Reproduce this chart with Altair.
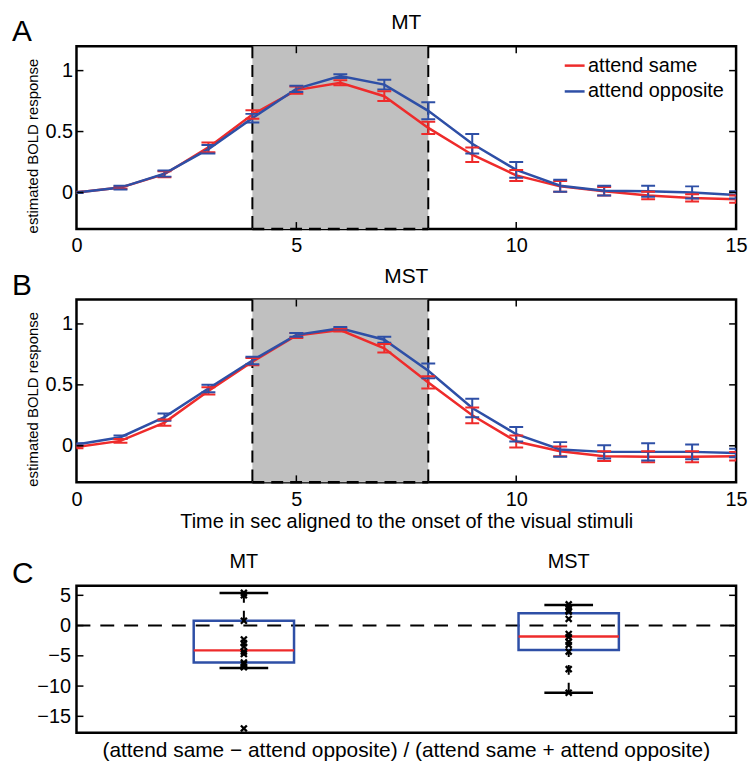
import altair as alt
import pandas as pd

FONT = "Liberation Sans"
RED = "#EE2B2B"
BLUE = "#2E4FA6"
GRAY = "#C0C0C0"

# ---------------- data ----------------
time_s = list(range(16))
conditions = ["attend same", "attend opposite"]
stim_on = 4
stim_off = 8

mt_same = [0.00, 0.04, 0.15, 0.37, 0.64, 0.84, 0.90, 0.79, 0.53, 0.31, 0.14, 0.05, 0.01, -0.025, -0.045, -0.055]
mt_same_err = [0.005, 0.01, 0.025, 0.04, 0.035, 0.03, 0.02, 0.04, 0.05, 0.06, 0.045, 0.045, 0.035, 0.03, 0.03, 0.03]
mt_opp = [0.00, 0.04, 0.155, 0.355, 0.61, 0.85, 0.955, 0.885, 0.67, 0.40, 0.185, 0.055, 0.015, 0.01, 0.00, -0.02]
mt_opp_err = [0.005, 0.015, 0.025, 0.035, 0.035, 0.025, 0.015, 0.04, 0.07, 0.08, 0.065, 0.05, 0.04, 0.045, 0.05, 0.03]

mst_same = [-0.01, 0.04, 0.19, 0.45, 0.69, 0.905, 0.95, 0.80, 0.52, 0.25, 0.035, -0.045, -0.085, -0.09, -0.09, -0.085]
mst_same_err = [0.01, 0.015, 0.025, 0.03, 0.03, 0.02, 0.012, 0.035, 0.05, 0.065, 0.05, 0.04, 0.04, 0.045, 0.045, 0.035]
mst_opp = [0.01, 0.07, 0.235, 0.47, 0.70, 0.91, 0.965, 0.87, 0.615, 0.31, 0.095, -0.03, -0.05, -0.05, -0.05, -0.06]
mst_opp_err = [0.01, 0.015, 0.03, 0.03, 0.03, 0.015, 0.01, 0.025, 0.06, 0.075, 0.06, 0.06, 0.055, 0.07, 0.06, 0.035]

regions = ["MT", "MST"]
region_pos = [1, 2]
box_q1 = [-6.1, -4.05]
box_med = [-4.1, -1.8]
box_q3 = [0.8, 2.05]
whisk_lo = [-7.0, -11.1]
whisk_hi = [5.4, 3.4]
mt_points = [5.4, 5.0, 0.8, -2.3, -2.9, -3.5, -4.3, -4.7, -6.1, -6.4, -6.9, -17.0]
mst_points = [3.5, 3.0, 2.5, 2.3, 1.1, -1.4, -1.9, -2.7, -3.2, -4.3, -7.2, -11.1]

tc_yticks = [0, 0.5, 1]
tc_xticks = [0, 5, 10, 15]
tc_inner_xticks = [5, 10]
box_yticks = [5, 0, -5, -10, -15]

# ---------------- layout ----------------
W = 664
H_TC = 184
H_BOX = 148
TICK = 7
X_PATH = "M-1,-1L1,1M-1,1L1,-1"


def tc_frame(same, same_err, opp, opp_err):
    rows = []
    for cond, vals, errs in ((conditions[0], same, same_err), (conditions[1], opp, opp_err)):
        for tt, v, e in zip(time_s, vals, errs):
            rows.append({"t": tt, "cond": cond, "v": v, "lo": v - e, "hi": v + e})
    return pd.DataFrame(rows)


def text_layer(s, size, x, y, align="center"):
    return alt.Chart(pd.DataFrame({"s": [s]})).mark_text(
        fontSize=size, align=align, baseline="alphabetic", color="black").encode(
        text="s:N", x=alt.value(x), y=alt.value(y))


def tc_panel(df, title, letter, legend, xtitle, anchor=False):
    xs = alt.Scale(domain=[0, 15], nice=False, zero=False)
    ys = alt.Scale(domain=[-0.3, 1.2], nice=False, zero=False)
    xaxis = alt.Axis(values=tc_xticks, tickSize=0, domain=False, grid=False,
                     labelFontSize=20, labelPadding=7, format="d", labelFlush=False,
                     titleFontSize=20, titleFontWeight="normal", titlePadding=2)
    yaxis = alt.Axis(values=tc_yticks, tickSize=0, domain=False, grid=False,
                     labelFontSize=20, labelPadding=4, format="~g",
                     titleFontSize=15, titleFontWeight="normal", titlePadding=4, titleY=100)

    def xe(f):
        return alt.X(f, type="quantitative", scale=xs, axis=xaxis, title=xtitle)

    def ye(f):
        return alt.Y(f, type="quantitative", scale=ys, axis=yaxis, title="estimated BOLD response")

    color = alt.Color("cond:N", scale=alt.Scale(domain=conditions, range=[RED, BLUE]), legend=legend)

    stim = pd.DataFrame({"on": [stim_on], "off": [stim_off]})
    stim_lines = pd.DataFrame({"v": [stim_on, stim_off]})

    rect = alt.Chart(stim).mark_rect(color=GRAY, opacity=1).encode(
        x=xe("on"), x2="off", y=alt.value(0), y2=alt.value(H_TC))
    vdash = alt.Chart(stim_lines).mark_rule(color="black", strokeWidth=2, strokeDash=[12, 7]).encode(
        x=xe("v"), y=alt.value(0), y2=alt.value(H_TC))
    bdash = alt.Chart(stim).mark_rule(color="black", strokeWidth=2.5, strokeDash=[12, 7]).encode(
        x=xe("on"), x2="off", y=alt.value(H_TC))

    base = alt.Chart(df)
    lines = base.mark_line(strokeWidth=2.5, clip=True).encode(x=xe("t"), y=ye("v"), color=color)
    errs = base.mark_rule(strokeWidth=2, clip=True, opacity=1).encode(x=xe("t"), y=ye("lo"), y2="hi", color=color)
    cap_lo = base.mark_tick(orient="horizontal", size=14, thickness=2, clip=True, opacity=1).encode(
        x=xe("t"), y=ye("lo"), color=color)
    cap_hi = base.mark_tick(orient="horizontal", size=14, thickness=2, clip=True, opacity=1).encode(
        x=xe("t"), y=ye("hi"), color=color)

    ydf = pd.DataFrame({"v": tc_yticks})
    xdf = pd.DataFrame({"v": tc_inner_xticks})
    tl = alt.Chart(ydf).mark_rule(color="black", strokeWidth=1.5).encode(
        y=ye("v"), x=alt.value(0), x2=alt.value(TICK))
    tr = alt.Chart(ydf).mark_rule(color="black", strokeWidth=1.5).encode(
        y=ye("v"), x=alt.value(W - TICK), x2=alt.value(W))
    tb = alt.Chart(xdf).mark_rule(color="black", strokeWidth=1.5).encode(
        x=xe("v"), y=alt.value(H_TC - TICK), y2=alt.value(H_TC))
    tt = alt.Chart(xdf).mark_rule(color="black", strokeWidth=1.5).encode(
        x=xe("v"), y=alt.value(0), y2=alt.value(TICK))

    let = text_layer(letter, 30, -65, -5, align="left")
    ttl = text_layer(title, 21, W / 2, -17)

    layers = [rect, vdash, bdash, lines, errs, cap_lo, cap_hi, tl, tr, tb, tt, let, ttl]
    if anchor:
        anc = alt.Chart(pd.DataFrame({"a": [0]})).mark_rule(strokeOpacity=0, strokeWidth=0).encode(
            x=alt.value(-75), x2=alt.value(-75), y=alt.value(-42), y2=alt.value(-42))
        layers.append(anc)

    return alt.layer(*layers).properties(width=W, height=H_TC)


legend_a = alt.Legend(title=None, orient="none", legendX=490, legendY=8, symbolType="stroke",
                      symbolSize=400, symbolStrokeWidth=2.5, labelFontSize=20, labelOffset=2,
                      rowPadding=4, padding=0, labelFont=FONT, symbolOpacity=1)

panel_a = tc_panel(tc_frame(mt_same, mt_same_err, mt_opp, mt_opp_err), "MT", "A", legend_a, None, anchor=True)
panel_b = tc_panel(tc_frame(mst_same, mst_same_err, mst_opp, mst_opp_err), "MST", "B", None,
                   "Time in sec aligned to the onset of the visual stimuli")

# ---------------- panel C ----------------
box_df = pd.DataFrame({"pos": region_pos, "label": regions, "q1": box_q1, "med": box_med,
                       "q3": box_q3, "lo": whisk_lo, "hi": whisk_hi})
pts_df = pd.DataFrame({"pos": [1] * len(mt_points) + [2] * len(mst_points),
                       "val": mt_points + mst_points})

xs_c = alt.Scale(domain=[0.5, 2.5], nice=False, zero=False)
ys_c = alt.Scale(domain=[-17.7, 6.6], nice=False, zero=False)
yaxis_c = alt.Axis(values=box_yticks, tickSize=0, domain=False, grid=False, labelFontSize=20,
                   labelPadding=6, format="d")


def xc(f):
    return alt.X(f, type="quantitative", scale=xs_c, axis=None)


def yc(f):
    return alt.Y(f, type="quantitative", scale=ys_c, axis=yaxis_c, title=None)


zero_line = alt.Chart(pd.DataFrame({"z": [0]})).mark_rule(
    color="black", strokeWidth=2, strokeDash=[14, 10]).encode(y=yc("z"), x=alt.value(0), x2=alt.value(W))
bbase = alt.Chart(box_df)
wh_up = bbase.mark_rule(color="black", strokeWidth=2, strokeDash=[10, 8]).encode(x=xc("pos"), y=yc("hi"), y2="q3")
wh_dn = bbase.mark_rule(color="black", strokeWidth=2, strokeDash=[10, 8]).encode(x=xc("pos"), y=yc("lo"), y2="q1")
cap_up = bbase.mark_tick(orient="horizontal", size=49, thickness=2.5, color="black", opacity=1).encode(
    x=xc("pos"), y=yc("hi"))
cap_dn = bbase.mark_tick(orient="horizontal", size=49, thickness=2.5, color="black", opacity=1).encode(
    x=xc("pos"), y=yc("lo"))
boxes = bbase.mark_bar(size=101, fillOpacity=0, stroke=BLUE, strokeWidth=2.5, strokeOpacity=1).encode(
    x=xc("pos"), y=yc("q1"), y2="q3")
medians = bbase.mark_tick(orient="horizontal", size=101, thickness=2.5, color=RED, opacity=1).encode(
    x=xc("pos"), y=yc("med"))
points = alt.Chart(pts_df).mark_point(shape=X_PATH, size=36, strokeWidth=2.3, color="black",
                                       filled=False, opacity=1).encode(x=xc("pos"), y=yc("val"))
labels = bbase.mark_text(fontSize=20, baseline="alphabetic", color="black").encode(
    x=xc("pos"), y=alt.value(-18), text="label:N")
ydf_c = pd.DataFrame({"v": box_yticks})
tl_c = alt.Chart(ydf_c).mark_rule(color="black", strokeWidth=1.5).encode(
    y=yc("v"), x=alt.value(0), x2=alt.value(TICK))
tr_c = alt.Chart(ydf_c).mark_rule(color="black", strokeWidth=1.5).encode(
    y=yc("v"), x=alt.value(W - TICK), x2=alt.value(W))
let_c = text_layer("C", 30, -65, -3, align="left")
xt_c = text_layer("(attend same \u2212 attend opposite) / (attend same + attend opposite)", 21, W / 2, H_BOX + 24)

panel_c = alt.layer(zero_line, wh_up, wh_dn, cap_up, cap_dn, boxes, medians, points, labels,
                    tl_c, tr_c, let_c, xt_c).properties(width=W, height=H_BOX)


def spacer(h):
    return alt.Chart(pd.DataFrame({"a": [0]}), view=alt.ViewBackground(stroke="transparent")).mark_point(
        opacity=0).encode(x=alt.value(0), y=alt.value(0)).properties(width=W, height=h)


chart = alt.vconcat(panel_a, spacer(71), panel_b, spacer(104), panel_c, spacing=0, bounds="flush").resolve_scale(
    color="independent", x="independent", y="independent"
).properties(
    padding={"left": 0, "top": 0, "right": 0, "bottom": 0}
).configure(font=FONT).configure_view(stroke="black", strokeWidth=2.5)

chart.save("out.html", embed_options={"renderer": "svg", "actions": False})
